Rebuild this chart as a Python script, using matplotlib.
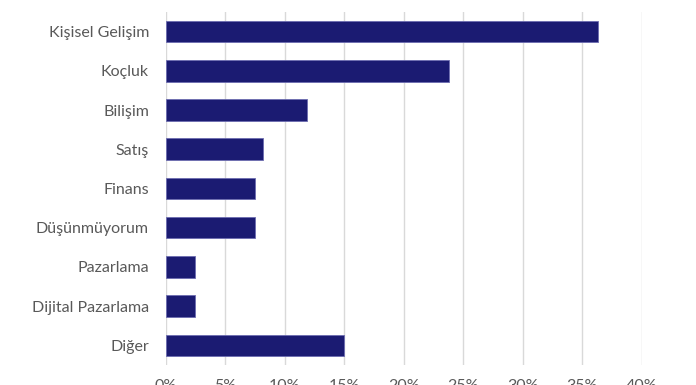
import matplotlib.pyplot as plt
from matplotlib.ticker import PercentFormatter

categories = ["Kişisel Gelişim", "Koçluk", "Bilişim", "Satış", "Finans",
              "Düşünmüyorum", "Pazarlama", "Dijital Pazarlama", "Diğer"]
values = [36.3, 23.8, 11.9, 8.2, 7.5, 7.5, 2.5, 2.5, 15.0]
xticks = [0, 5, 10, 15, 20, 25, 30, 35, 40]

plt.rcParams['font.family'] = ['Lato', 'DejaVu Sans']

fig = plt.figure(figsize=(6.96, 3.85), dpi=100)
ax = fig.add_axes([0.238, 0.052, 0.684, 0.917])

ypos = range(len(categories))
ax.barh(ypos, values, height=0.55, color='#1b1b72', edgecolor='#6c6cb0', linewidth=0.6, zorder=3)

ax.set_ylim(len(categories) - 0.5, -0.5)
ax.set_yticks(list(ypos))
ax.set_yticklabels(categories)
ax.set_xlim(0, 40)
ax.set_xticks(xticks)
ax.xaxis.set_major_formatter(PercentFormatter(decimals=0))

ax.grid(axis='x', color='#d9d9d9', linewidth=1, zorder=0)
for s in ax.spines.values():
    s.set_visible(False)
ax.tick_params(axis='both', length=0, labelcolor='#595959', labelsize=11.5)
ax.tick_params(axis='y', pad=12)
ax.tick_params(axis='x', pad=10)

fig.savefig("out.png", dpi=100)
